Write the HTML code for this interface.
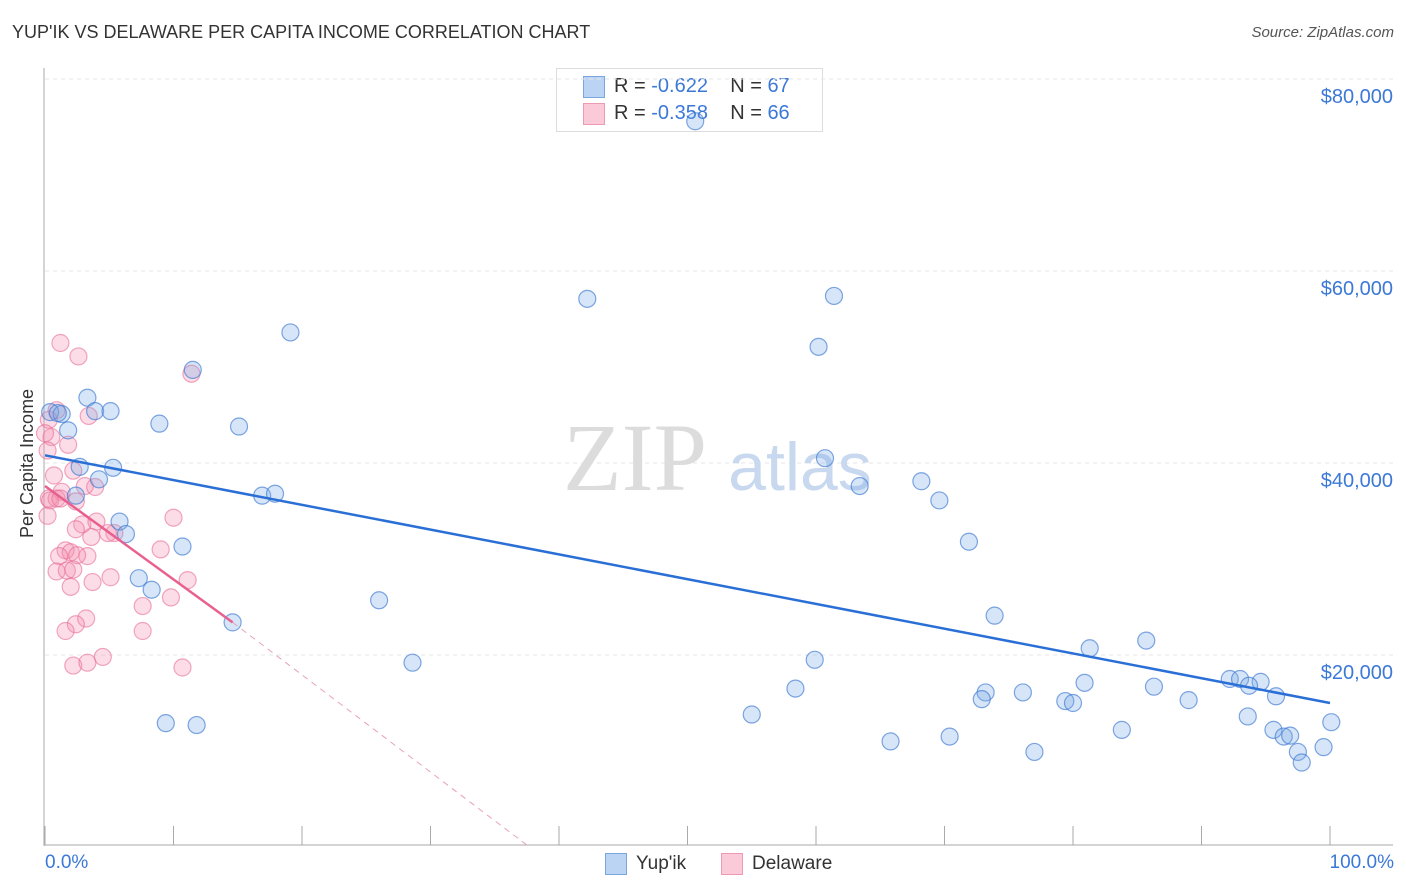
<!DOCTYPE html>
<html><head><meta charset="utf-8">
<style>
body{margin:0;background:#fff;font-family:"Liberation Sans",sans-serif;}
#wrap{position:relative;width:1406px;height:892px;overflow:hidden;}
.t{position:absolute;white-space:nowrap;}
</style></head>
<body>
<div id="wrap">
<div class="t" style="left:12px;top:22px;font-size:18px;color:#333;">YUP'IK VS DELAWARE PER CAPITA INCOME CORRELATION CHART</div>
<div class="t" style="right:12px;top:24px;font-size:15px;color:#555;font-style:italic;">Source: ZipAtlas.com</div>
<div style="position:absolute;left:556px;top:68px;width:265px;height:62px;border:1px solid #ddd;background:#fff;font-size:20px;">
 <div class="t" style="left:26px;top:7px;width:20px;height:20px;background:#bcd4f3;border:1px solid #7aa6e0;"></div>
 <div class="t" style="left:57px;top:6px;color:#333;">R = <span style="color:#3b78d8">-0.622</span>&nbsp;&nbsp;&nbsp; N = <span style="color:#3b78d8">67</span></div>
 <div class="t" style="left:26px;top:34px;width:20px;height:20px;background:#fbcad8;border:1px solid #ef9ab5;"></div>
 <div class="t" style="left:57px;top:33px;color:#333;">R = <span style="color:#3b78d8">-0.358</span>&nbsp;&nbsp;&nbsp; N = <span style="color:#3b78d8">66</span></div>
</div>
<svg id="svg" width="1406" height="892" style="position:absolute;left:0;top:0"></svg>
</div>
<script>
const blueX=[50.6,42.2,61.4,19.1,60.2,11.5,3.3,0.4,1.3,3.9,5.1,8.9,15.1,1.8,2.7,5.3,60.7,4.2,63.4,68.2,69.6,16.9,17.9,2.4,5.8,6.3,10.7,71.9,7.3,8.3,26.0,73.9,14.6,85.7,81.3,59.9,28.6,92.2,93.0,94.6,80.9,86.3,93.7,58.4,73.2,76.1,72.9,79.4,80.0,89.0,95.8,55.0,93.6,100.1,9.4,11.8,83.8,95.6,96.4,96.9,70.4,65.8,99.5,97.5,77.0,97.8,1.0];
const blueY=[75600,57100,57400,53600,52100,49700,46800,45300,45100,45400,45400,44100,43800,43400,39600,39500,40500,38300,37600,38100,36100,36600,36800,36600,33900,32600,31300,31800,28000,26800,25700,24100,23400,21500,20700,19500,19200,17500,17500,17200,17100,16700,16800,16500,16100,16100,15400,15200,15000,15300,15700,13800,13600,13000,12900,12700,12200,12200,11500,11600,11500,11000,10400,9900,9900,8800,45200];
const pinkX=[1.2,2.6,11.4,0.9,3.4,0.3,0.5,1.8,0.2,0.7,2.2,3.1,3.9,1.3,0.3,0.9,2.4,0.2,2.9,4.0,5.4,4.9,10.0,2.4,3.6,1.6,2.0,9.0,1.1,3.3,2.5,0.9,1.7,2.2,5.1,3.7,11.1,2.0,9.8,7.6,3.2,2.4,1.6,7.6,4.5,2.2,3.3,10.7,0.0,0.4,1.2];
const pinkY=[52500,51100,49300,45500,44900,44500,42700,41900,41300,38700,39200,37600,37500,37000,36300,36300,36000,34500,33600,33900,32700,32700,34300,33100,32300,30900,30700,31000,30300,30300,30400,28700,28800,28900,28100,27600,27800,27100,26000,25100,23800,23200,22500,22500,19800,18900,19200,18700,43100,36100,36300];
const blueLine=[[0,40800],[100,15000]];
const pinkSolid=[[0,37600],[14.6,23400]];
const pinkDash=[[14.6,23400],[37.7,0]];
const yTicks=[20000,40000,60000,80000];
const xTickVals=[0,10,20,30,40,50,60,70,80,90,100];

const X=v=>45+v*12.85, Y=v=>847-v/20000*192;
const svg=document.getElementById('svg');const NS='http://www.w3.org/2000/svg';
function mk(tag,attrs,name,inter){const e=document.createElementNS(NS,tag);for(const k in attrs)e.setAttribute(k,attrs[k]);


svg.appendChild(e);return e;}
yTicks.forEach(v=>{mk('line',{x1:45,x2:1393,y1:Y(v),y2:Y(v),stroke:'#e6e6e6','stroke-dasharray':'4,4'},'gridline');
const t=mk('text',{x:1393,y:Y(v)+24,'text-anchor':'end','font-size':20,fill:'#3b78d8','font-family':'Liberation Sans'},'y-tick-label');t.textContent='$'+v.toLocaleString('en-US');});
mk('line',{x1:44,x2:44,y1:68,y2:846,stroke:'#aaa'},'y-axis-line');
mk('line',{x1:44,x2:1393,y1:845,y2:845,stroke:'#aaa'},'x-axis-line');
xTickVals.forEach(v=>mk('line',{x1:X(v),x2:X(v),y1:826,y2:845,stroke:'#aaa'},'x-tick'));
let wt=mk('text',{x:635,y:490,'text-anchor':'middle','font-size':96,fill:'#dcdcdc','font-family':'Liberation Serif'},'watermark-zip');wt.textContent='ZIP';
wt=mk('text',{x:800,y:490,'text-anchor':'middle','font-size':68,fill:'#c8d8ef','font-family':'Liberation Sans'},'watermark-atlas');wt.textContent='atlas';
pinkX.forEach((x,i)=>mk('circle',{cx:X(x),cy:Y(pinkY[i]),r:8.5,fill:'rgba(244,143,177,0.3)',stroke:'rgba(232,110,150,0.6)','stroke-width':1.2},'delaware-point','true'));
blueX.forEach((x,i)=>mk('circle',{cx:X(x),cy:Y(blueY[i]),r:8.5,fill:'rgba(120,170,230,0.3)',stroke:'rgba(60,120,210,0.65)','stroke-width':1.2},'yupik-point','true'));
mk('line',{x1:X(blueLine[0][0]),y1:Y(blueLine[0][1]),x2:X(blueLine[1][0]),y2:Y(blueLine[1][1]),stroke:'#2a6fd6','stroke-width':2.5},'yupik-trendline');
mk('line',{x1:X(pinkSolid[0][0]),y1:Y(pinkSolid[0][1]),x2:X(pinkSolid[1][0]),y2:Y(pinkSolid[1][1]),stroke:'#e8608f','stroke-width':2.5},'delaware-trendline');
mk('line',{x1:X(pinkDash[0][0]),y1:Y(pinkDash[0][1]),x2:X(pinkDash[1][0]),y2:Y(pinkDash[1][1]),stroke:'#e8a0b8','stroke-width':1,'stroke-dasharray':'6,5'},'delaware-trendline-extension');
</script>
<div class="t" style="left:17px;top:538px;transform:rotate(-90deg);transform-origin:0 0;font-size:18px;color:#333;">Per Capita Income</div>
<div class="t" style="left:45px;top:852px;font-size:19px;color:#3b78d8;">0.0%</div>
<div class="t" style="right:12px;top:852px;font-size:19px;color:#3b78d8;">100.0%</div>
<div class="t" style="left:605px;top:853px;width:20px;height:20px;background:#bcd4f3;border:1px solid #7aa6e0;"></div>
<div class="t" style="left:636px;top:853px;font-size:19px;color:#333;">Yup'ik</div>
<div class="t" style="left:721px;top:853px;width:20px;height:20px;background:#fbcad8;border:1px solid #ef9ab5;"></div>
<div class="t" style="left:752px;top:853px;font-size:19px;color:#333;">Delaware</div>
</body></html>
